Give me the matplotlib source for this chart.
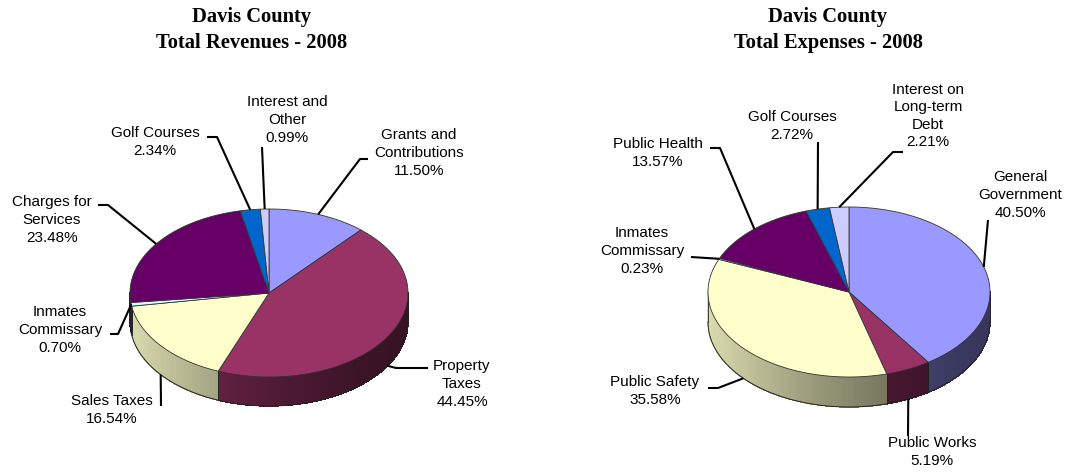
import numpy as np
import matplotlib.pyplot as plt
from matplotlib.colors import to_rgb
from matplotlib.collections import PolyCollection

# data
rev_labels = ['Grants and\nContributions', 'Property\nTaxes', 'Sales Taxes',
              'Inmates\nCommissary', 'Charges for\nServices', 'Golf Courses',
              'Interest and\nOther']
rev_values = [11.50, 44.45, 16.54, 0.70, 23.48, 2.34, 0.99]

exp_labels = ['General\nGovernment', 'Public Works', 'Public Safety',
              'Inmates\nCommissary', 'Public Health', 'Golf Courses',
              'Interest on\nLong-term\nDebt']
exp_values = [40.50, 5.19, 35.58, 0.23, 13.57, 2.72, 2.21]

colors = ['#9999FF', '#993366', '#FFFFCC', '#CCFFFF', '#660066', '#0066CC', '#CCCCFF']

# layout (pixel coords of the 1091x472 image)
rev_text = [(419, 153), (462, 384), (112, 410), (60, 330), (52, 220), (155, 142), (287, 120)]
rev_elbow = [[(368, 159), (360, 159)], [(428, 368), (396, 368)], [(161, 406)],
             [(110, 334), (118, 334)], [(98, 205), (108, 205)],
             [(207, 137), (217, 137)], [(262, 147)]]
exp_text = [(1020, 195), (932, 452), (655, 391), (642, 251), (658, 153), (792, 126), (928, 116)]
exp_elbow = [[(988, 220)], [(908, 436)], [(708, 388), (718, 388)], [(691, 257)],
             [(710, 148), (720, 148)], [(818, 142)], [(903, 152), (893, 152)]]


def shade(u):
    return 0.36 + 0.5 * (1 - u) ** 1.5


def ell(cx, cy, rx, ry, t):
    t = np.radians(t)
    return cx + rx * np.cos(t), cy - ry * np.sin(t)


def pie3d(ax, values, labels, cx, cy, rx, ry, depth, texts, elbows, title, tx):
    cum = np.concatenate([[0], np.cumsum(values)]) / sum(values)
    starts = 90 - cum[1:] * 360
    ends = 90 - cum[:-1] * 360

    # side walls (front half only, t in [-180, 0])
    for a, b, c in zip(starts, ends, colors):
        lo, hi = max(a, -180), min(b, 0)
        if hi <= lo:
            continue
        base = np.array(to_rgb(c))
        n = max(int((hi - lo) / 1.0), 1)
        ts = np.linspace(lo, hi, n + 1)
        polys, cols = [], []
        for t0, t1 in zip(ts[:-1], ts[1:]):
            x0, y0 = ell(cx, cy, rx, ry, t0)
            x1, y1 = ell(cx, cy, rx, ry, t1)
            u = (np.cos(np.radians((t0 + t1) / 2)) + 1) / 2
            polys.append([(x0, y0), (x1, y1), (x1, y1 + depth), (x0, y0 + depth)])
            cols.append(np.clip(base * shade(u), 0, 1))
        ax.add_collection(PolyCollection(polys, facecolors=cols, edgecolors=cols,
                                         linewidths=0.3, antialiaseds=False, zorder=1))
        for t in (lo, hi):
            x, y = ell(cx, cy, rx, ry, t)
            ax.plot([x, x], [y, y + depth], color='#222222', lw=0.6, zorder=2)
    tt = np.linspace(-180, 0, 200)
    bx, by = ell(cx, cy, rx, ry, tt)
    ax.plot(bx, by + depth, color='#222222', lw=0.7, zorder=2)

    # top face
    for a, b, c in zip(starts, ends, colors):
        ts = np.linspace(a, b, max(int(b - a), 2) + 1)
        x, y = ell(cx, cy, rx, ry, ts)
        ax.fill(np.r_[cx, x], np.r_[cy, y], facecolor=c, edgecolor='#333333',
                lw=0.6, zorder=3)

    # labels and leader lines
    for v, lab, a, b, (px, py), pts in zip(values, labels, starts, ends, texts, elbows):
        mid = (a + b) / 2
        ex, ey = ell(cx, cy, rx, ry, mid)
        if np.sin(np.radians(mid)) < -0.3:
            ey += depth
        xs = [p[0] for p in pts] + [ex]
        ys = [p[1] for p in pts] + [ey]
        ax.plot(xs, ys, color='black', lw=1.5, zorder=4, solid_capstyle='butt')
        ax.text(px, py, f'{lab}\n{v:.2f}%', ha='center', va='center',
                fontsize=11, family='Liberation Sans', linespacing=1.32, zorder=5)

    ax.text(tx, 30, title, ha='center', va='center', fontsize=14.8,
            family='Liberation Serif', weight='bold', linespacing=1.38)


fig = plt.figure(figsize=(10.91, 4.72), dpi=100)
ax = fig.add_axes([0, 0, 1, 1])
ax.set_xlim(0, 1091)
ax.set_ylim(472, 0)
ax.axis('off')

pie3d(ax, rev_values, rev_labels, 269, 293, 139, 84, 29, rev_text, rev_elbow,
      'Davis County\nTotal Revenues - 2008', 252)
pie3d(ax, exp_values, exp_labels, 849, 292, 141, 85, 30, exp_text, exp_elbow,
      'Davis County\nTotal Expenses - 2008', 828)

fig.savefig('out.png', dpi=100)
